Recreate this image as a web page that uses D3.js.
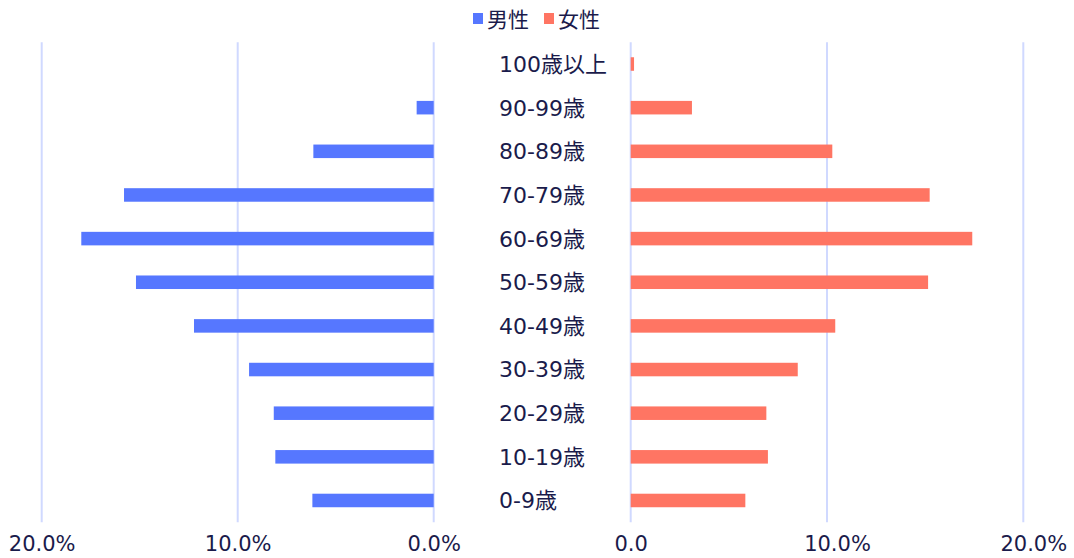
<!DOCTYPE html>
<html>
<head>
<meta charset="utf-8">
<script src="https://cdn.jsdelivr.net/npm/d3@7"></script>
<style>
  html, body { margin: 0; padding: 0; background: #fff; }
  svg { display: block; }
  text { font-family: "DejaVu Sans", "Noto Sans CJK JP", sans-serif; fill: #1a1b4b; }
</style>
</head>
<body>
<svg id="chart" width="1074" height="558"></svg>
<script>
// Age groups, top row first
const ageGroups = ["100歳以上", "90-99歳", "80-89歳", "70-79歳", "60-69歳", "50-59歳",
                   "40-49歳", "30-39歳", "20-29歳", "10-19歳", "0-9歳"];
// Share of population (%) per age group
const maleShare   = [0.0, 0.87, 6.14, 15.8, 17.98, 15.19, 12.23, 9.42, 8.16, 8.08, 6.19];
const femaleShare = [0.17, 3.12, 10.27, 15.23, 17.4, 15.15, 10.42, 8.51, 6.91, 6.99, 5.84];
const axisTicks = [0, 10, 20];
const seriesNames = ["男性", "女性"];

const colors = { male: "#5677ff", female: "#ff7563", grid: "#d0d9ff" };

const svg = d3.select("#chart");

const plotTop = 42.2, plotBottom = 522.3;
const leftZero = 433.7, leftEnd = 41.7;
const rightZero = 630.7, rightEnd = 1023.3;

const xLeft = d3.scaleLinear().domain([0, 20]).range([leftZero, leftEnd]);
const xRight = d3.scaleLinear().domain([0, 20]).range([rightZero, rightEnd]);
const y = d3.scaleBand().domain(ageGroups).range([plotTop, plotBottom])
  .paddingInner(0.69).paddingOuter(0.345);

// vertical gridlines
const grid = svg.append("g");
grid.selectAll("line.l").data(axisTicks).join("line")
  .attr("x1", d => xLeft(d)).attr("x2", d => xLeft(d))
  .attr("y1", plotTop).attr("y2", plotBottom)
  .attr("stroke", colors.grid).attr("stroke-width", 2);
grid.selectAll("line.r").data(axisTicks).join("line")
  .attr("x1", d => xRight(d)).attr("x2", d => xRight(d))
  .attr("y1", plotTop).attr("y2", plotBottom)
  .attr("stroke", colors.grid).attr("stroke-width", 2);

// male bars (grow leftwards)
svg.append("g").selectAll("rect").data(ageGroups).join("rect")
  .attr("x", (d, i) => xLeft(maleShare[i]))
  .attr("y", d => y(d))
  .attr("width", (d, i) => xLeft(0) - xLeft(maleShare[i]))
  .attr("height", y.bandwidth())
  .attr("fill", colors.male);

// female bars (grow rightwards)
svg.append("g").selectAll("rect").data(ageGroups).join("rect")
  .attr("x", xRight(0))
  .attr("y", d => y(d))
  .attr("width", (d, i) => xRight(femaleShare[i]) - xRight(0))
  .attr("height", y.bandwidth())
  .attr("fill", colors.female);

// age labels in the centre gap
svg.append("g").selectAll("text").data(ageGroups).join("text")
  .attr("x", 499)
  .attr("y", d => y(d) + y.bandwidth() / 2)
  .attr("dy", "0.36em")
  .attr("font-size", 22)
  .text(d => d);

// bottom axes
const axisY = 543;
const leftAxis = svg.append("g").attr("transform", `translate(0,${axisY})`)
  .call(d3.axisBottom(xLeft).tickValues(axisTicks).tickSize(0)
    .tickFormat(d => d3.format(".1f")(d) + "%"));
const rightAxis = svg.append("g").attr("transform", `translate(0,${axisY})`)
  .call(d3.axisBottom(xRight).tickValues(axisTicks).tickSize(0)
    .tickFormat(d => d === 0 ? "0.0" : d3.format(".1f")(d) + "%"));
[leftAxis, rightAxis].forEach(g => {
  g.select(".domain").remove();
  g.selectAll("text").attr("y", 0).attr("dy", "0.36em")
    .attr("font-size", 21).attr("font-family", null).attr("fill", null);
});
// right-hand labels are centred on their number, with the % trailing
rightAxis.selectAll("text").each(function(d) {
  const t = d3.select(this);
  if (d === 0) return;
  const num = d3.format(".1f")(d);
  t.text(num);
  const w = this.getComputedTextLength();
  t.text(num + "%").attr("text-anchor", "start").attr("x", -w / 2);
});

// legend
const legend = svg.append("g");
const legendItems = [
  { name: seriesNames[0], color: colors.male, x: 473 },
  { name: seriesNames[1], color: colors.female, x: 544 }
];
legendItems.forEach(it => {
  legend.append("rect").attr("x", it.x).attr("y", 13).attr("width", 10).attr("height", 11)
    .attr("fill", it.color);
  legend.append("text").attr("x", it.x + 14).attr("y", 19).attr("dy", "0.36em")
    .attr("font-size", 21).text(it.name);
});
</script>
</body>
</html>
